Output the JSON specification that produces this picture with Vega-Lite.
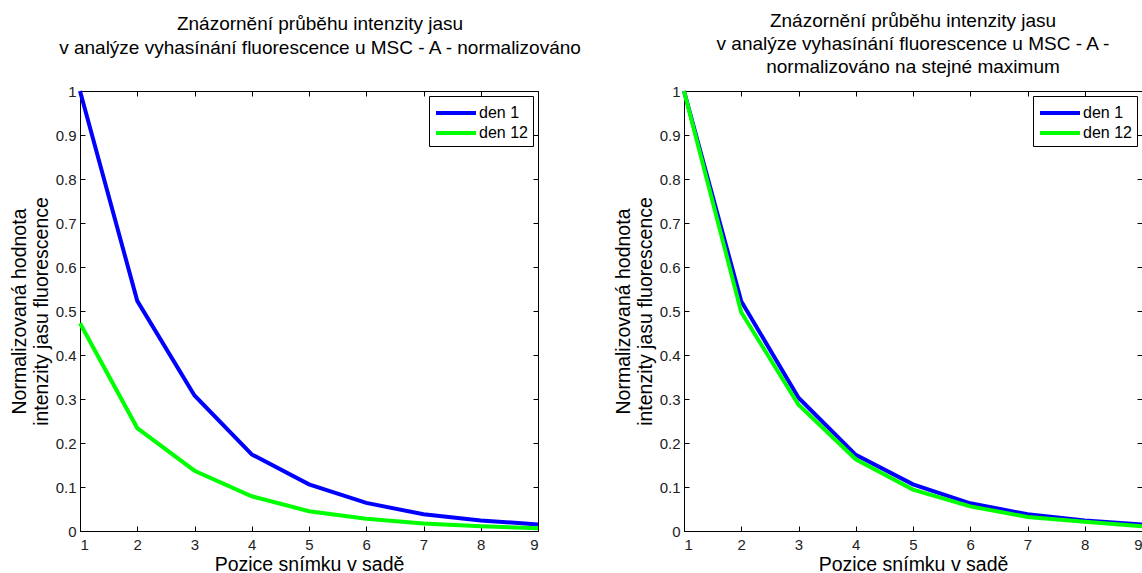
{
  "$schema": "https://vega.github.io/schema/vega-lite/v6.json",
  "background": "white",
  "padding": {"left": 9, "top": 11, "right": 0, "bottom": 0},
  "bounds": "flush",
  "spacing": 146,
  "resolve": {"scale": {"color": "independent"}, "legend": {"color": "independent"}},
  "datasets": {
    "d": [
      {"panel": "A", "den": "den 1", "pozice": 1, "hodnota": 1.0},
      {"panel": "A", "den": "den 1", "pozice": 2, "hodnota": 0.523},
      {"panel": "A", "den": "den 1", "pozice": 3, "hodnota": 0.308},
      {"panel": "A", "den": "den 1", "pozice": 4, "hodnota": 0.174},
      {"panel": "A", "den": "den 1", "pozice": 5, "hodnota": 0.106},
      {"panel": "A", "den": "den 1", "pozice": 6, "hodnota": 0.064},
      {"panel": "A", "den": "den 1", "pozice": 7, "hodnota": 0.038},
      {"panel": "A", "den": "den 1", "pozice": 8, "hodnota": 0.024},
      {"panel": "A", "den": "den 1", "pozice": 9, "hodnota": 0.015},
      {"panel": "A", "den": "den 12", "pozice": 1, "hodnota": 0.472},
      {"panel": "A", "den": "den 12", "pozice": 2, "hodnota": 0.234},
      {"panel": "A", "den": "den 12", "pozice": 3, "hodnota": 0.137},
      {"panel": "A", "den": "den 12", "pozice": 4, "hodnota": 0.079},
      {"panel": "A", "den": "den 12", "pozice": 5, "hodnota": 0.045},
      {"panel": "A", "den": "den 12", "pozice": 6, "hodnota": 0.028},
      {"panel": "A", "den": "den 12", "pozice": 7, "hodnota": 0.017},
      {"panel": "A", "den": "den 12", "pozice": 8, "hodnota": 0.011},
      {"panel": "A", "den": "den 12", "pozice": 9, "hodnota": 0.006},
      {"panel": "B", "den": "den 1", "pozice": 1, "hodnota": 1.0},
      {"panel": "B", "den": "den 1", "pozice": 2, "hodnota": 0.522},
      {"panel": "B", "den": "den 1", "pozice": 3, "hodnota": 0.303},
      {"panel": "B", "den": "den 1", "pozice": 4, "hodnota": 0.173},
      {"panel": "B", "den": "den 1", "pozice": 5, "hodnota": 0.106},
      {"panel": "B", "den": "den 1", "pozice": 6, "hodnota": 0.063},
      {"panel": "B", "den": "den 1", "pozice": 7, "hodnota": 0.038},
      {"panel": "B", "den": "den 1", "pozice": 8, "hodnota": 0.024},
      {"panel": "B", "den": "den 1", "pozice": 9, "hodnota": 0.015},
      {"panel": "B", "den": "den 12", "pozice": 1, "hodnota": 1.0},
      {"panel": "B", "den": "den 12", "pozice": 2, "hodnota": 0.497},
      {"panel": "B", "den": "den 12", "pozice": 3, "hodnota": 0.287},
      {"panel": "B", "den": "den 12", "pozice": 4, "hodnota": 0.163},
      {"panel": "B", "den": "den 12", "pozice": 5, "hodnota": 0.094},
      {"panel": "B", "den": "den 12", "pozice": 6, "hodnota": 0.056},
      {"panel": "B", "den": "den 12", "pozice": 7, "hodnota": 0.032},
      {"panel": "B", "den": "den 12", "pozice": 8, "hodnota": 0.021},
      {"panel": "B", "den": "den 12", "pozice": 9, "hodnota": 0.011}
    ]
  },
  "config": {
    "font": "Liberation Sans",
    "view": {"stroke": "black", "strokeWidth": 1},
    "axis": {
      "grid": false,
      "domainColor": "black",
      "tickColor": "black",
      "tickSize": -5,
      "labelPadding": 9,
      "labelColor": "#222222",
      "labelFont": "Liberation Sans",
      "labelFontSize": 15,
      "titleFont": "Liberation Sans",
      "titleFontSize": 19.5,
      "titleFontWeight": "normal",
      "titleColor": "black"
    },
    "axisX": {"titlePadding": 3, "labelPadding": 11},
    "title": {
      "font": "Liberation Sans",
      "fontSize": 19,
      "fontWeight": "normal",
      "color": "black",
      "anchor": "middle",
      "lineHeight": 24
    },
    "legend": {
      "orient": "top-right",
      "offset": 5,
      "strokeColor": "black",
      "fillColor": "white",
      "padding": 5,
      "cornerRadius": 0,
      "symbolType": "M-1,0H3",
      "symbolSize": 400,
      "symbolStrokeWidth": 4,
      "labelFont": "Liberation Sans",
      "labelFontSize": 16,
      "labelColor": "black",
      "labelOffset": 21,
      "rowPadding": 0
    }
  },
  "hconcat": [
    {
      "width": 458,
      "height": 440,
      "title": {
        "text": ["Znázornění průběhu intenzity jasu", "v analýze vyhasínání fluorescence u MSC - A - normalizováno"],
        "offset": 25,
        "dx": 11
      },
      "data": {"name": "d"},
      "transform": [{"filter": "datum.panel == 'A'"}],
      "layer": [
        {
          "mark": {"type": "line", "strokeWidth": 4},
          "encoding": {
            "x": {"field": "pozice", "type": "quantitative", "scale": {"domain": [1, 9], "nice": false, "zero": false},
                  "axis": {"values": [1, 2, 3, 4, 5, 6, 7, 8, 9], "title": "Pozice snímku v sadě", "format": "~g"}},
            "y": {"field": "hodnota", "type": "quantitative", "scale": {"domain": [0, 1], "nice": false},
                  "axis": {"values": [0, 0.1, 0.2, 0.3, 0.4, 0.5, 0.6, 0.7, 0.8, 0.9, 1], "format": "~g", "title": ["Normalizovaná hodnota", "intenzity jasu fluorescence"]}},
            "color": {"field": "den", "type": "nominal", "scale": {"domain": ["den 1", "den 12"], "range": ["#0000ff", "#00ff00"]}, "legend": {"title": null, "orient": "top-right"}}
          }
        },
        {
          "mark": {"type": "point", "opacity": 0},
          "encoding": {
            "x": {"field": "pozice", "type": "quantitative", "axis": {"orient": "top", "labels": false, "title": null, "domain": false, "values": [1, 2, 3, 4, 5, 6, 7, 8, 9]}},
            "y": {"field": "hodnota", "type": "quantitative", "axis": {"orient": "right", "labels": false, "title": null, "domain": false, "values": [0, 0.1, 0.2, 0.3, 0.4, 0.5, 0.6, 0.7, 0.8, 0.9, 1]}}
          }
        }
      ],
      "resolve": {"axis": {"x": "independent", "y": "independent"}}
    },
    {
      "width": 458,
      "height": 440,
      "title": {
        "text": ["Znázornění průběhu intenzity jasu", "v analýze vyhasínání fluorescence u MSC - A -", "normalizováno na stejné maximum"],
        "offset": 6,
        "lineHeight": 23
      },
      "data": {"name": "d"},
      "transform": [{"filter": "datum.panel == 'B'"}],
      "layer": [
        {
          "mark": {"type": "line", "strokeWidth": 4},
          "encoding": {
            "x": {"field": "pozice", "type": "quantitative", "scale": {"domain": [1, 9], "nice": false, "zero": false},
                  "axis": {"values": [1, 2, 3, 4, 5, 6, 7, 8, 9], "title": "Pozice snímku v sadě", "format": "~g"}},
            "y": {"field": "hodnota", "type": "quantitative", "scale": {"domain": [0, 1], "nice": false},
                  "axis": {"values": [0, 0.1, 0.2, 0.3, 0.4, 0.5, 0.6, 0.7, 0.8, 0.9, 1], "format": "~g", "title": ["Normalizovaná hodnota", "intenzity jasu fluorescence"]}},
            "color": {"field": "den", "type": "nominal", "scale": {"domain": ["den 1", "den 12"], "range": ["#0000ff", "#00ff00"]}, "legend": {"title": null, "orient": "top-right"}}
          }
        },
        {
          "mark": {"type": "point", "opacity": 0},
          "encoding": {
            "x": {"field": "pozice", "type": "quantitative", "axis": {"orient": "top", "labels": false, "title": null, "domain": false, "values": [1, 2, 3, 4, 5, 6, 7, 8, 9]}},
            "y": {"field": "hodnota", "type": "quantitative", "axis": {"orient": "right", "labels": false, "title": null, "domain": false, "values": [0, 0.1, 0.2, 0.3, 0.4, 0.5, 0.6, 0.7, 0.8, 0.9, 1]}}
          }
        }
      ],
      "resolve": {"axis": {"x": "independent", "y": "independent"}}
    }
  ]
}
